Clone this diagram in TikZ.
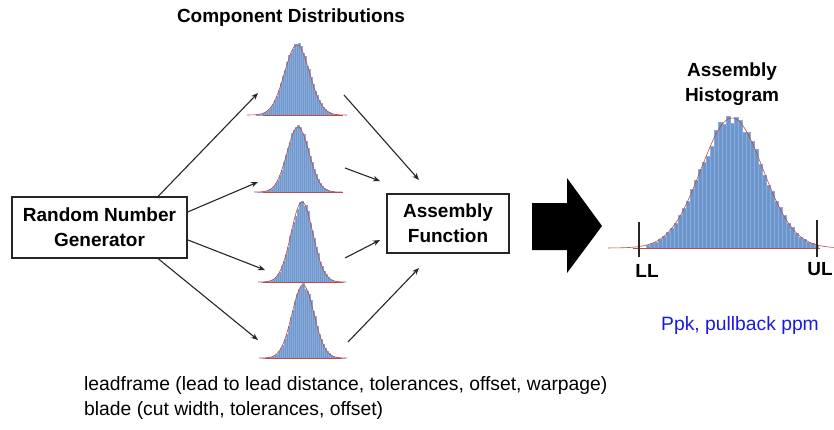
\documentclass[tikz,border=0pt]{standalone}
\usepackage{fontspec}
\setmainfont{Liberation Sans}
\usetikzlibrary{arrows.meta}
\definecolor{histblue}{RGB}{108,150,206}
\definecolor{barline}{RGB}{140,172,215}
\definecolor{fitred}{RGB}{185,75,75}
\definecolor{ppkblue}{RGB}{25,25,225}
\newcommand\mkhist[8]{% #1 mu, #2 sigma, #3 H, #4 base, #5 N half, #6 bar width, #7 left, #8 right
  \foreach \i in {-#5,...,#5}{
    \pgfmathsetmacro\bx{#1+\i*#6-#6/2}
    \pgfmathsetmacro\bh{#3*exp(-((\i*#6)/#2)^2/2)*(1+0.05*rand)}
    \filldraw[fill=histblue,draw=barline,line width=0.15pt] (\bx,#4) rectangle ++(#6,-\bh);
  }
  \pgfmathsetmacro\dl{#1-4*#2}
  \pgfmathsetmacro\dr{#1+4*#2}
  \draw[fitred,line width=0.6pt] (#7,#4) -- (#8,#4);
  \draw[fitred,line width=0.6pt] plot[domain=\dl:\dr,samples=70,smooth] (\x,{#4-#3*exp(-((\x-#1)/#2)^2/2)});
}
\tikzset{
  lbl/.style={font=\fontsize{19}{25}\selectfont\bfseries,align=center,inner sep=0pt},
  txt/.style={font=\fontsize{19.3}{25}\selectfont,inner sep=0pt},
  box/.style={draw=black!85,line width=1.4pt,fill=white,align=center,font=\fontsize{19}{25}\selectfont\bfseries,inner sep=0pt},
  conn/.style={draw=black!85,line width=1.1pt,-{Stealth[length=7pt,width=5.5pt]}}
}
\begin{document}
\begin{tikzpicture}[x=1pt,y=-1pt]
\useasboundingbox (0,0) rectangle (834,429);
\pgfmathsetseed{11}
% titles
\node[lbl] (title) at (291,18) {Component Distributions};
\node[lbl] (ahist) at (732,84) {Assembly\\Histogram};
% boxes
\node[box,minimum width=175pt,minimum height=61pt] (rng) at (99.5,227.5) {Random Number\\Generator};
\node[box,minimum width=122pt,minimum height=59pt] (af) at (448,223.5) {Assembly\\Function};
% small histograms
\mkhist{297}{12.5}{70}{115}{20}{2}{263}{343}
\mkhist{298}{11}{65}{192}{20}{2}{263}{343}
\mkhist{302}{11}{80}{282}{20}{2}{263}{343}
\mkhist{303}{11}{73}{358}{20}{2}{265}{342}
% big histogram
\mkhist{732}{31}{130}{248}{21}{4}{633}{820}
\draw[black!85,line width=1.2pt] (639,222) -- (639,257);
\draw[black!85,line width=1.2pt] (817,220) -- (817,257);
\node[lbl] (ll) at (647,271) {LL};
\node[lbl] (ul) at (820,269) {UL};
% coordinates for connector ends
\coordinate (h1in) at (258,93);
\coordinate (h2in) at (258,182);
\coordinate (h3in) at (265,270);
\coordinate (h4in) at (258,340);
\coordinate (h1out) at (344,95);
\coordinate (h2out) at (345,168);
\coordinate (h3out) at (345,258);
\coordinate (h4out) at (348,342);
\coordinate (af1) at (419,180);
\coordinate (af2) at (380,181);
\coordinate (af3) at (380,240);
\coordinate (af4) at (419,268);
\draw[conn] (rng.28.8) -- (h1in);
\draw[conn] (rng.10) -- (h2in);
\draw[conn] (rng.-8) -- (h3in);
\draw[conn] (rng.-28.8) -- (h4in);
\draw[conn] (h1out) -- (af1);
\draw[conn] (h2out) -- (af2);
\draw[conn] (h3out) -- (af3);
\draw[conn] (h4out) -- (af4);
% big arrow
\fill[black] (532,203) -- (567,203) -- (567,178) -- (602,226) -- (567,273) -- (567,250) -- (532,250) -- cycle;
% texts
\node[txt,text=ppkblue] (ppk) at (740,326) {Ppk, pullback ppm};
\node[txt,anchor=north west,align=left] (notes) at (84,376) {leadframe (lead to lead distance, tolerances, offset, warpage)\\blade (cut width, tolerances, offset)};
\end{tikzpicture}
\end{document}
